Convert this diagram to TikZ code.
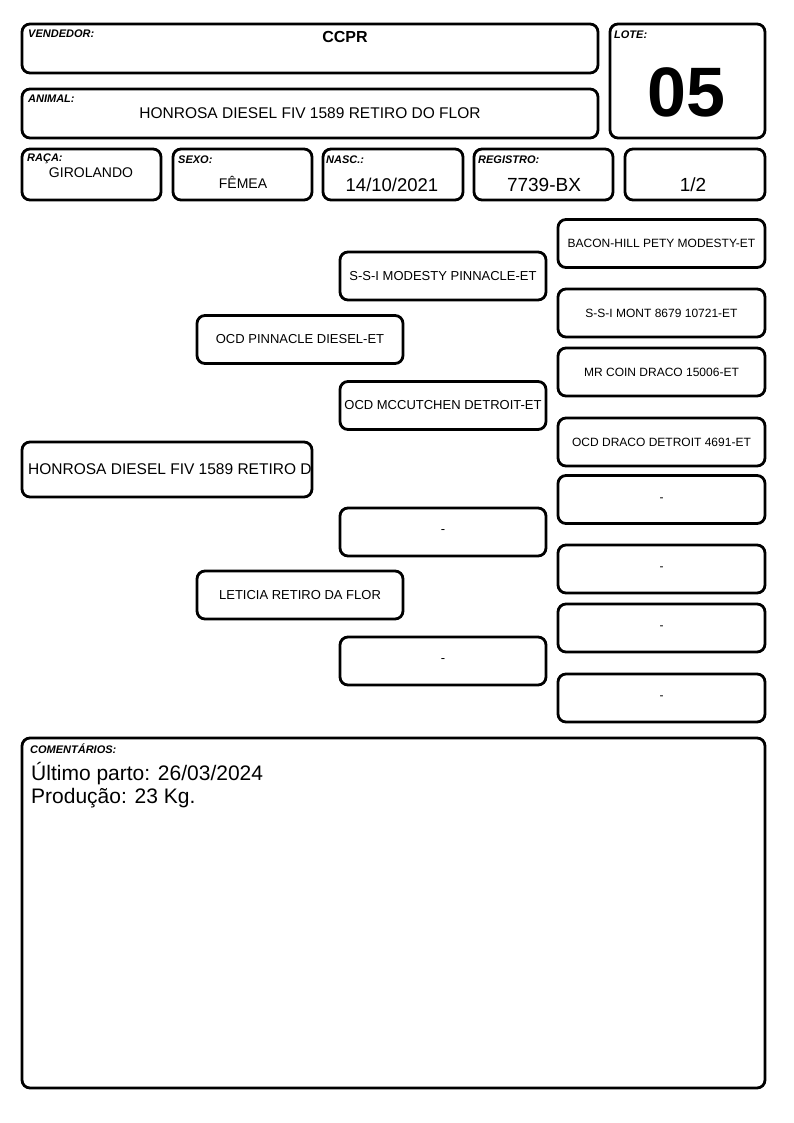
\documentclass[tikz,border=0pt]{standalone}
\usepackage{fontspec}
\setmainfont{Liberation Sans}
\usetikzlibrary{positioning}

\newcommand{\px}[1]{\fontsize{#1}{#1}\selectfont}

\begin{document}
\begin{tikzpicture}[
    x=1pt, y=-1pt,
    card/.style={rectangle, rounded corners=8pt, draw=black, line width=2.8pt, inner sep=0pt},
    tag/.style={anchor=base west, inner sep=0pt, font=\bfseries\itshape\px{11}},
    value/.style={anchor=base, inner sep=0pt},
    pedbox/.style={card, minimum width=206pt, minimum height=48pt, font=\px{13}},
    ancbox/.style={card, minimum width=207pt, minimum height=48pt, font=\px{12}},
]
\useasboundingbox (0,0) rectangle (794,1123);

% header
\node[card, minimum width=576pt, minimum height=49pt] (vendor) at (310,48.5) {};
\node[card, minimum width=576pt, minimum height=49pt] (animal) at (310,113.5) {};
\node[card, minimum width=155pt, minimum height=114pt] (lot) at (687.5,81) {};
\node[card, minimum width=139pt, minimum height=51pt] (breed) at (91.5,174.5) {};
\node[card, minimum width=139pt, minimum height=51pt] (sex) at (242.5,174.5) {};
\node[card, minimum width=140pt, minimum height=51pt] (birth) at (393,174.5) {};
\node[card, minimum width=139pt, minimum height=51pt] (reg) at (543.5,174.5) {};
\node[card, minimum width=140pt, minimum height=51pt] (part) at (695,174.5) {};

\node[tag] (vendortag) at (28,38) {VENDEDOR:};
\node[value, font=\bfseries\px{16}] (vendorval) at (345,43) {CCPR};
\node[tag] (animaltag) at (28,103) {ANIMAL:};
\node[value, font=\px{15.5}] (animalval) at (310,119) {HONROSA DIESEL FIV 1589 RETIRO DO FLOR};
\node[tag] (lottag) at (614,39) {LOTE:};
\node[value, font=\bfseries\px{70}] (lotval) at (686,117) {05};
\node[tag] (breedtag) at (27,162) {RAÇA:};
\node[value, font=\px{14}] (breedval) at (91,178) {GIROLANDO};
\node[tag] (sextag) at (178,164) {SEXO:};
\node[value, font=\px{14}] (sexval) at (243,189) {FÊMEA};
\node[tag] (birthtag) at (326,164) {NASC.:};
\node[value, font=\px{18.5}] (birthval) at (392,192) {14/10/2021};
\node[tag] (regtag) at (478,164) {REGISTRO:};
\node[value, font=\px{19}] (regval) at (544,192) {7739-BX};
\node[value, font=\px{19}] (partval) at (693,192) {1/2};

% pedigree
\node[card, minimum width=290pt, minimum height=55pt] (subject) at (167,469.5) {};
\node[anchor=west, inner sep=0pt, font=\px{15.5}] (subjectval) at (28,469.5) {HONROSA DIESEL FIV 1589 RETIRO D};

\node[pedbox] (sire) at (300,339.5) {OCD PINNACLE DIESEL-ET};
\node[pedbox] (dam) at (300,595) {LETICIA RETIRO DA FLOR};

\node[pedbox] (ss) at (443,276) {S-S-I MODESTY PINNACLE-ET};
\node[pedbox] (sd) at (443,405.5) {OCD MCCUTCHEN DETROIT-ET};
\node[pedbox] (ds) at (443,532) {-};
\node[pedbox] (dd) at (443,661) {-};

\node[ancbox] (sss) at (661.5,243.5) {BACON-HILL PETY MODESTY-ET};
\node[ancbox] (ssd) at (661.5,313) {S-S-I MONT 8679 10721-ET};
\node[ancbox] (sds) at (661.5,372) {MR COIN DRACO 15006-ET};
\node[ancbox] (sdd) at (661.5,442) {OCD DRACO DETROIT 4691-ET};
\node[ancbox] (dss) at (661.5,499.5) {-};
\node[ancbox] (dsd) at (661.5,569) {-};
\node[ancbox] (dds) at (661.5,628) {-};
\node[ancbox] (ddd) at (661.5,698) {-};

% comments
\node[card, minimum width=743pt, minimum height=350pt] (notes) at (393.5,913) {};
\node[tag] (notestag) at (30,753) {COMENTÁRIOS:};
\node[anchor=base west, inner sep=0pt, font=\px{21}] (noteone) at (31,780) {Último parto: 26/03/2024};
\node[anchor=base west, inner sep=0pt, font=\px{21}] (notetwo) at (31,803) {Produção: 23 Kg.};
\end{tikzpicture}
\end{document}
